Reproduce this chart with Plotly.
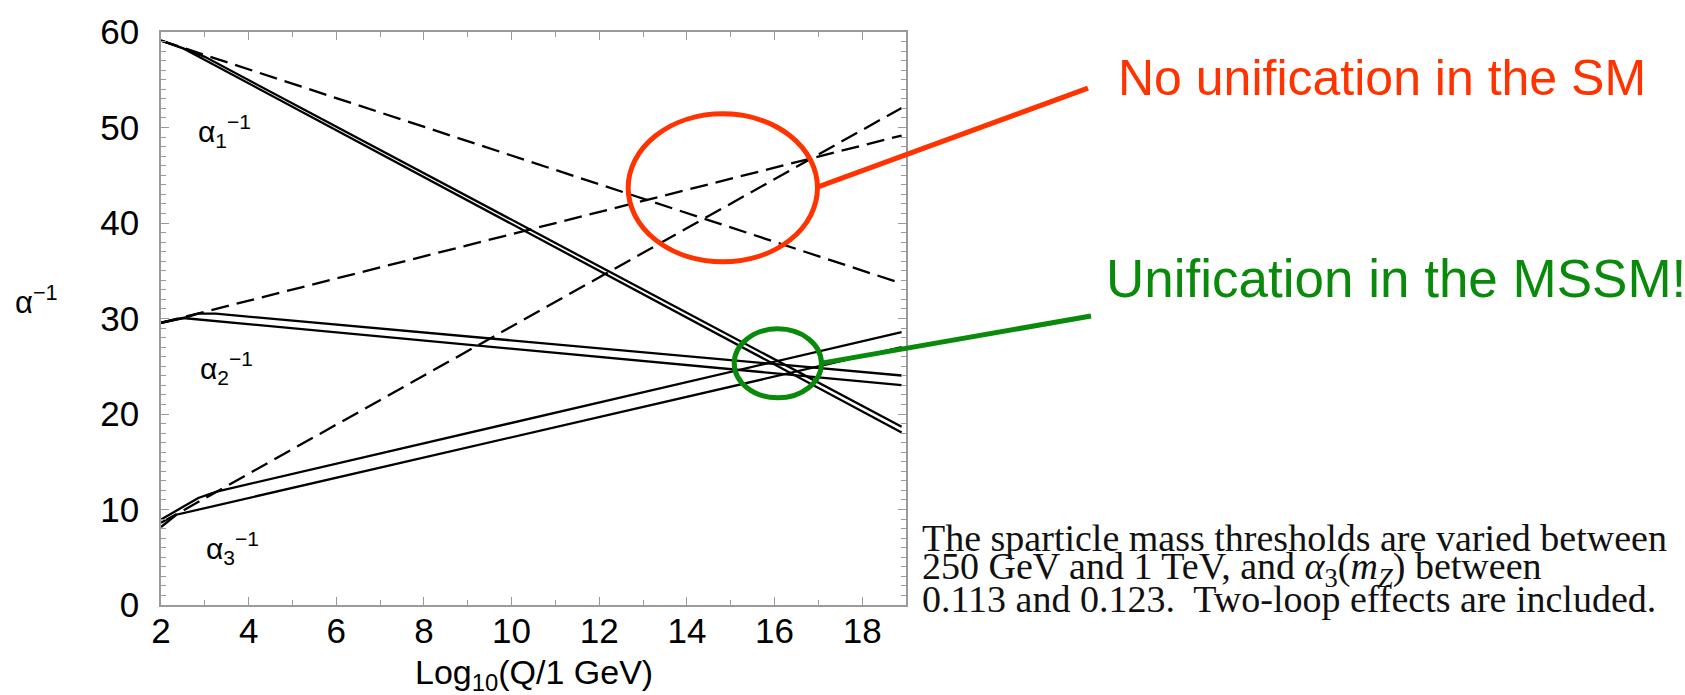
import plotly.graph_objects as go

# ---------------- data ----------------
# Standard Model running (dashed lines)
sm_x = [2, 18.9]
sm_a1 = [59.1, 33.67]
sm_a2 = [29.55, 49.16]
sm_a3 = [8.6, 52.05]

# MSSM running: two edges of each band (solid lines)
a1_hi_x = [2, 2.5, 3.0, 18.9]
a1_hi_y = [59.1, 58.3, 57.4, 18.66]
a1_lo_x = [2, 2.5, 18.9]
a1_lo_y = [59.1, 58.3, 18.07]

a2_hi_x = [2, 2.5, 2.85, 3.25, 18.9]
a2_hi_y = [29.55, 30.05, 30.5, 30.5, 24.03]
a2_lo_x = [2, 2.5, 18.9]
a2_lo_y = [29.55, 30.05, 23.03]

a3_hi_x = [2, 2.85, 3.27, 18.9]
a3_hi_y = [8.95, 11.2, 11.88, 28.57]
a3_lo_x = [2, 2.35, 18.9]
a3_lo_y = [8.16, 9.45, 27.0]

x_ticks = [2, 4, 6, 8, 10, 12, 14, 16, 18]
y_ticks = [0, 10, 20, 30, 40, 50, 60]

# ---------------- figure ----------------
fig = go.Figure()

def add_line(x, y, dashed=False):
    fig.add_trace(go.Scatter(
        x=x, y=y, mode="lines", showlegend=False, hoverinfo="skip",
        line=dict(color="black", width=2.3, dash="18px,8px" if dashed else "solid"),
    ))

for ys in (sm_a1, sm_a2, sm_a3):
    add_line(sm_x, ys, dashed=True)
for xs, ys in ((a1_hi_x, a1_hi_y), (a1_lo_x, a1_lo_y),
               (a2_hi_x, a2_hi_y), (a2_lo_x, a2_lo_y),
               (a3_hi_x, a3_hi_y), (a3_lo_x, a3_lo_y)):
    add_line(xs, ys)

SANS = "Liberation Sans, Arial, Helvetica, sans-serif"
SERIF = "Liberation Serif, Times New Roman, serif"
AX = "#9a9a9a"

axis_common = dict(
    showline=True, linecolor=AX, linewidth=1.5, mirror="allticks",
    ticks="inside", ticklen=8, tickcolor=AX, tickwidth=1,
    showgrid=False, zeroline=False,
    tickfont=dict(family=SANS, size=35, color="black"),
)

fig.update_xaxes(range=[2, 19], tickvals=x_ticks, ticklabelstandoff=-6,
                 minor=dict(dtick=1, ticks="inside", ticklen=5, tickcolor=AX),
                 **axis_common)
fig.update_yaxes(range=[0, 60], tickvals=y_ticks, ticklabelstandoff=13,
                 minor=dict(dtick=1, ticks="inside", ticklen=5, tickcolor=AX),
                 **axis_common)

def px_x(px):
    return (px - 161) / 745

def px_y(py):
    return (605 - py) / 581

annotations = [
    # axis titles
    dict(text="Log<sub>10</sub>(Q/1 GeV)", xref="paper", yref="paper",
         x=px_x(534), y=px_y(675), xanchor="center", yanchor="middle", showarrow=False,
         font=dict(family=SANS, size=34, color="black")),
    dict(text="α<sup>−1</sup>", xref="paper", yref="paper",
         x=px_x(13), y=px_y(296), xanchor="left", yanchor="middle", showarrow=False,
         font=dict(family=SANS, size=31, color="black")),
    # coupling labels
    dict(text="α<sub>1</sub><sup>−1</sup>", xref="x", yref="y", x=2.8, y=49.6,
         xanchor="left", yanchor="middle", showarrow=False,
         font=dict(family=SANS, size=30, color="black")),
    dict(text="α<sub>2</sub><sup>−1</sup>", xref="x", yref="y", x=2.85, y=24.8,
         xanchor="left", yanchor="middle", showarrow=False,
         font=dict(family=SANS, size=30, color="black")),
    dict(text="α<sub>3</sub><sup>−1</sup>", xref="x", yref="y", x=2.97, y=6.0,
         xanchor="left", yanchor="middle", showarrow=False,
         font=dict(family=SANS, size=30, color="black")),
    # callouts
    dict(text="No unification in the SM", xref="paper", yref="paper",
         x=px_x(1116), y=px_y(71), xanchor="left", yanchor="middle",
         showarrow=False, font=dict(family=SANS, size=50, color="#ff3300")),
    dict(text="Unification in the MSSM!", xref="paper", yref="paper",
         x=px_x(1104), y=px_y(274), xanchor="left", yanchor="middle",
         showarrow=False, font=dict(family=SANS, size=53, color="#0a8a0a")),
]

caption = [
    "The sparticle mass thresholds are varied between",
    "250 GeV and 1 TeV, and <i>α</i><sub>3</sub>(<i>m</i><sub><i>Z</i></sub>) between",
    "0.113 and 0.123.  Two-loop effects are included.",
]
caption_y = [537, 568, 599]
for t, py in zip(caption, caption_y):
    annotations.append(dict(text=t, xref="paper", yref="paper",
                            x=px_x(920), y=px_y(py),
                            xanchor="left", yanchor="middle", showarrow=False,
                            font=dict(family=SERIF, size=38, color="#111111")))

shapes = [
    dict(type="circle", xref="x", yref="y", x0=12.66, x1=16.98, y0=35.94, y1=51.43,
         line=dict(color="#ff3300", width=5)),
    dict(type="circle", xref="x", yref="y", x0=15.08, x1=17.07, y0=21.69, y1=28.92,
         line=dict(color="#0a8a0a", width=5)),
    dict(type="line", xref="paper", yref="paper",
         x0=px_x(818), y0=px_y(181), x1=px_x(1088), y1=px_y(81),
         line=dict(color="#ff3300", width=5)),
    dict(type="line", xref="paper", yref="paper",
         x0=px_x(820), y0=px_y(360), x1=px_x(1091), y1=px_y(312),
         line=dict(color="#0a8a0a", width=5)),
]

fig.update_layout(
    width=1685, height=695,
    margin=dict(l=161, r=1685 - 906, t=24, b=695 - 605),
    paper_bgcolor="white", plot_bgcolor="white",
    annotations=annotations, shapes=shapes,
    showlegend=False,
)

fig.write_html(
    "out.html",
    config={"displayModeBar": False},
    post_script="document.body.style.margin='0px';document.body.style.overflow='hidden';",
)
